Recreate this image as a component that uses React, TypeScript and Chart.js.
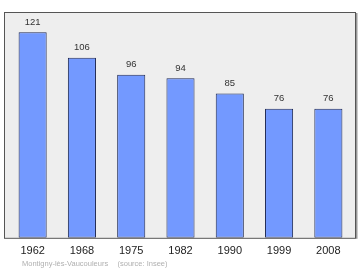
import React, { useEffect, useRef } from "react";
import { Chart, registerables } from "chart.js";

Chart.register(...registerables);

const categories = ["1962", "1968", "1975", "1982", "1990", "1999", "2008"];
const population = [121, 106, 96, 94, 85, 76, 76];
const footerPlace = "Montigny-lès-Vaucouleurs";
const footerSource = "(source: Insee)";

const framePlugin = {
  id: "frame",
  beforeDraw(chart: any) {
    const { ctx, chartArea } = chart;
    const l = chartArea.left - 4;
    const r = chartArea.right + 3;
    const t = chartArea.top;
    const b = chartArea.bottom;
    ctx.save();
    ctx.fillStyle = "#eeeeee";
    ctx.fillRect(l, t, r - l, b - t);
    ctx.fillStyle = "#999999";
    ctx.fillRect(r, t + 1, 1.5, b - t);
    ctx.strokeStyle = "#555555";
    ctx.lineWidth = 1;
    ctx.strokeRect(l + 0.5, t + 0.5, r - l - 1, b - t);
    ctx.restore();
  },
  afterDatasetsDraw(chart: any) {
    const { ctx, chartArea } = chart;
    const meta = chart.getDatasetMeta(0);
    ctx.save();
    ctx.fillStyle = "#333333";
    ctx.font = "9.5px 'Liberation Sans', Arial, sans-serif";
    ctx.textAlign = "center";
    ctx.textBaseline = "middle";
    meta.data.forEach((bar: any, i: number) => {
      ctx.fillText(String(population[i]), bar.x, bar.y - 10);
    });
    ctx.fillStyle = "#b0b0b0";
    ctx.font = "7.5px 'Liberation Sans', Arial, sans-serif";
    ctx.textAlign = "left";
    const fy = chartArea.bottom + 26;
    ctx.fillText(footerPlace, 22, fy);
    ctx.fillText(footerSource, 117.5, fy);
    ctx.restore();
  },
};

export default function App() {
  const ref = useRef<HTMLCanvasElement>(null);
  useEffect(() => {
    document.body.style.margin = "0";
    const chart = new Chart(ref.current!, {
      type: "bar",
      data: {
        labels: categories,
        datasets: [
          {
            data: population,
            backgroundColor: "#7399ff",
            borderColor: "#1f2a55",
            borderWidth: 1,
            borderSkipped: false,
            barPercentage: 0.57,
            categoryPercentage: 1,
          },
        ],
      },
      options: {
        responsive: false,
        animation: false,
        layout: { padding: { left: 8, right: 7, top: 12, bottom: 5 } },
        plugins: {
          legend: { display: false },
          tooltip: { enabled: false },
        },
        scales: {
          y: { display: false, min: 0, max: 133 },
          x: {
            grid: { display: false, drawTicks: false, tickLength: 0 },
            border: { display: false },
            ticks: {
              color: "#222222",
              padding: 7,
              font: { family: "'Liberation Sans', Arial, sans-serif", size: 11 },
              maxRotation: 0,
            },
          },
        },
      },
      plugins: [framePlugin],
    });
    return () => chart.destroy();
  }, []);
  return (
    <div style={{ width: 360, height: 270 }}>
      <canvas ref={ref} width={360} height={270} />
    </div>
  );
}
